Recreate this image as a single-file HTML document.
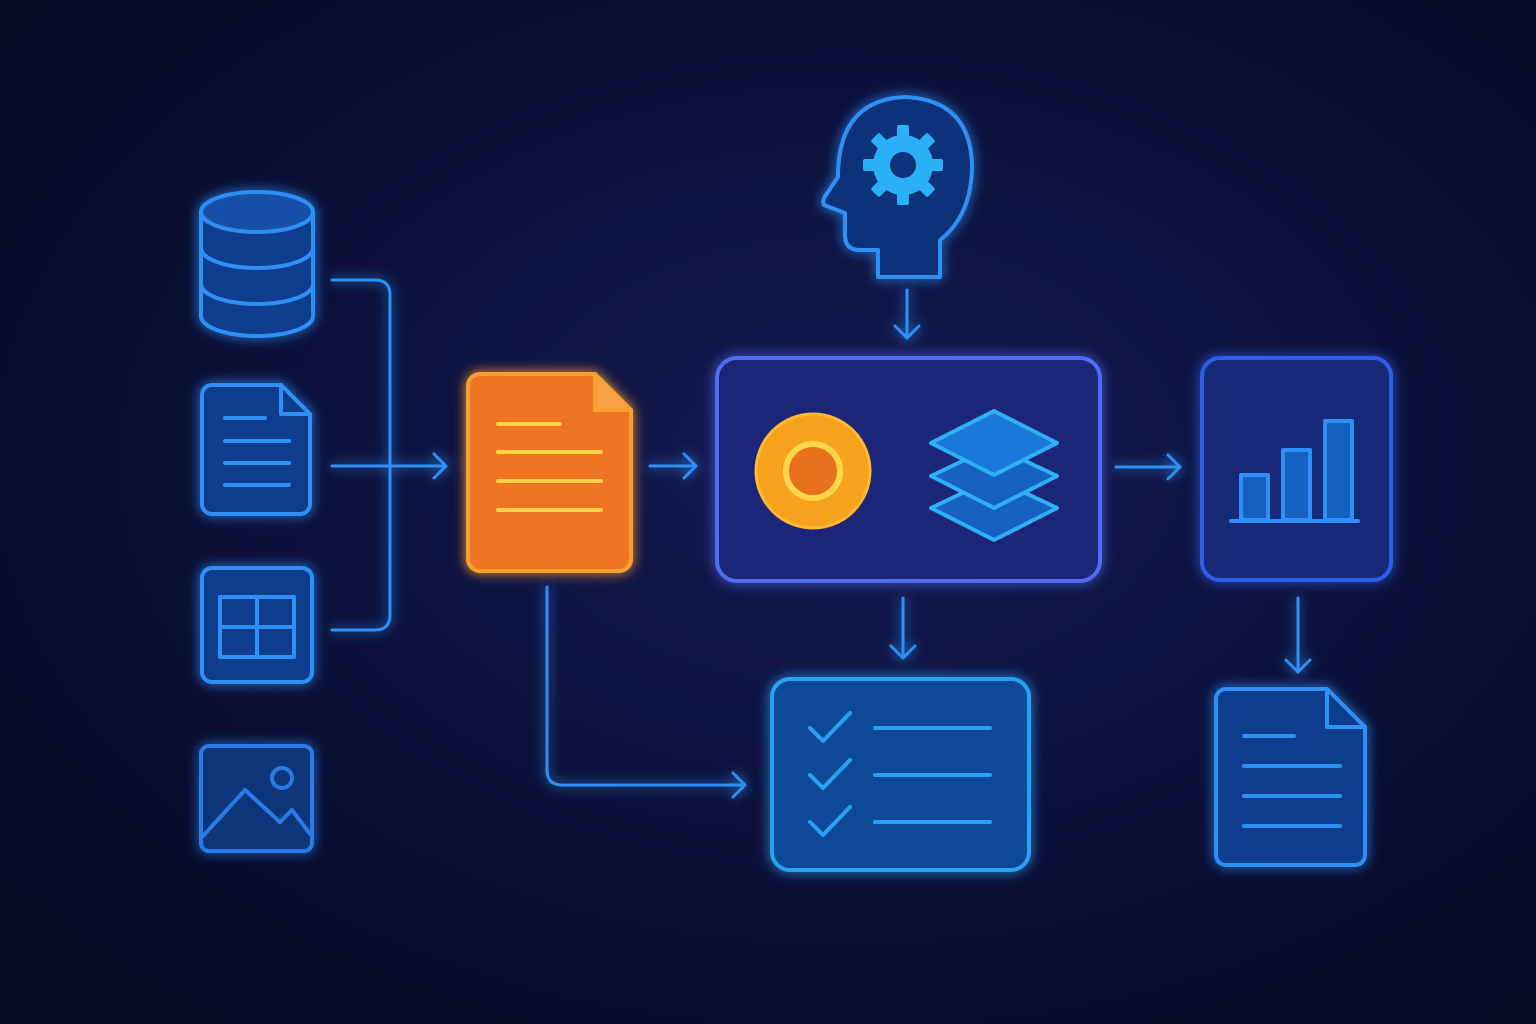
<!DOCTYPE html>
<html><head><meta charset="utf-8"><style>
html,body{margin:0;padding:0;background:#070b26;}
svg{display:block}
</style></head><body>
<svg width="1536" height="1024" viewBox="0 0 1536 1024" xmlns="http://www.w3.org/2000/svg">
<defs>
<radialGradient id="bg" cx="0.55" cy="0.45" r="0.7">
<stop offset="0" stop-color="#141a52"/><stop offset="0.6" stop-color="#0b1038"/><stop offset="1" stop-color="#060922"/>
</radialGradient>
<filter id="glow" x="-30%" y="-30%" width="160%" height="160%">
<feGaussianBlur stdDeviation="6" result="b"/>
<feMerge><feMergeNode in="b"/><feMergeNode in="SourceGraphic"/></feMerge>
</filter>
<marker id="ar" viewBox="0 0 10 10" refX="9" refY="5" markerWidth="8" markerHeight="8" orient="auto" markerUnits="userSpaceOnUse">
</marker>
</defs>
<rect width="1536" height="1024" fill="url(#bg)"/>
<g filter="url(#glow)" fill="none" stroke-linecap="round" stroke-linejoin="round">
<!-- database -->
<g stroke="#2f8ff5" stroke-width="4" fill="#113d8c">
<path d="M201 212 V316 A56 20 0 0 0 313 316 V212"/>
<ellipse cx="257" cy="212" rx="56" ry="20" fill="#1650a8"/>
<path d="M201 248 A56 20 0 0 0 313 248 M201 284 A56 20 0 0 0 313 284" fill="none"/>
</g>
<!-- doc -->
<g stroke="#2f8ff5" stroke-width="4">
<path d="M212 385 H281 L310 414 V504 A10 10 0 0 1 300 514 H212 A10 10 0 0 1 202 504 V395 A10 10 0 0 1 212 385Z" fill="#113d8c"/>
<path d="M281 385 V414 H310"/>
<path d="M225 418H265M225 441H289M225 463H289M225 485H289"/>
</g>
<!-- table -->
<g stroke="#2f8ff5" stroke-width="4">
<rect x="202" y="568" width="110" height="114" rx="10" fill="#113d8c"/>
<rect x="220" y="597" width="74" height="60"/>
<path d="M257 597V657M220 627H294"/>
</g>
<!-- image -->
<g stroke="#2a7ae8" stroke-width="4">
<rect x="201" y="746" width="111" height="105" rx="8" fill="#0f357a"/>
<path d="M203 836 L245 790 L280 822 L292 810 L310 834"/>
<circle cx="282" cy="778" r="10"/>
</g>
<!-- connectors left -->
<g stroke="#2f8ff5" stroke-width="3">
<path d="M332 280 H375 Q390 280 390 295 V615 Q390 630 375 630 H332"/>
<path d="M332 466 H446 M434 454 L446 466 L434 478"/>
<path d="M650 466 H696 M684 454 L696 466 L684 478"/>
<path d="M547 587 V770 Q547 785 562 785 H745 M733 773 L745 785 L733 797"/>
<path d="M907 290 V338 M895 326 L907 338 L919 326"/>
<path d="M1116 467 H1180 M1168 455 L1180 467 L1168 479"/>
<path d="M903 598 V658 M891 646 L903 658 L915 646"/>
<path d="M1298 598 V672 M1286 660 L1298 672 L1310 660"/>
</g>
<!-- orange doc -->
<g stroke="#f7a030" stroke-width="4">
<path d="M480 374 H595 L631 410 V559 A12 12 0 0 1 619 571 H480 A12 12 0 0 1 468 559 V386 A12 12 0 0 1 480 374Z" fill="#f07420"/>
<path d="M595 374 V410 H631" fill="#f8a040"/>
<path d="M498 424H560M498 452H601M498 481H601M498 510H601" stroke="#ffd24a"/>
</g>
<!-- main box -->
<rect x="717" y="358" width="383" height="223" rx="20" fill="#1b2878" stroke="#4f6cf2" stroke-width="4"/>
<circle cx="813" cy="471" r="57" fill="#f7a21f" stroke="#ffb830" stroke-width="3"/>
<circle cx="813" cy="471" r="27" fill="#e8721e" stroke="#ffd64a" stroke-width="6"/>
<g stroke="#2fb0f5" stroke-width="4" fill="#1560c0">
<path d="M994 478 L1057 508 L994 540 L931 508Z"/>
<path d="M994 446 L1057 476 L994 508 L931 476Z"/>
<path d="M994 411 L1057 443 L994 475 L931 443Z" fill="#1a78d8"/>
</g>
<!-- head -->
<g stroke="#2f8ff5" stroke-width="4">
<path d="M878 277 V250 H860 Q845 250 845 235 V213 L824 205 Q822 200 826 195 L838 177 Q838 100 905 97 Q970 100 972 165 Q972 215 940 240 V277 Z" fill="#10307a"/>
</g>
<g fill="#2ab0f5">
<circle cx="903" cy="165" r="30"/>
<g transform="translate(903 165)">
<rect x="-6" y="-40" width="12" height="14" rx="2"/><rect x="-6" y="26" width="12" height="14" rx="2"/>
<rect x="-40" y="-6" width="14" height="12" rx="2"/><rect x="26" y="-6" width="14" height="12" rx="2"/>
<g transform="rotate(45)"><rect x="-6" y="-40" width="12" height="14" rx="2"/><rect x="-6" y="26" width="12" height="14" rx="2"/><rect x="-40" y="-6" width="14" height="12" rx="2"/><rect x="26" y="-6" width="14" height="12" rx="2"/></g>
</g>
<circle cx="903" cy="165" r="13" fill="#10307a"/>
</g>
<!-- chart -->
<g stroke="#2f8ff5" stroke-width="4">
<rect x="1202" y="358" width="189" height="222" rx="18" fill="#122a78" stroke="#2f5ee8"/>
<rect x="1241" y="475" width="27" height="45" fill="#1560c0"/>
<rect x="1283" y="450" width="27" height="70" fill="#1560c0"/>
<rect x="1325" y="421" width="27" height="99" fill="#1560c0"/>
<path d="M1231 521 H1358"/>
</g>
<!-- checklist -->
<g stroke="#2aa0f0" stroke-width="4">
<rect x="772" y="679" width="257" height="191" rx="18" fill="#114a98"/>
<path d="M810 728 L823 741 L850 713 M810 775 L823 788 L850 760 M810 822 L823 835 L850 807"/>
<path d="M875 728H990M875 775H990M875 822H990"/>
</g>
<!-- right doc -->
<g stroke="#2f8ff5" stroke-width="4">
<path d="M1227 689 H1327 L1365 727 V855 A10 10 0 0 1 1355 865 H1227 A10 10 0 0 1 1216 855 V699 A10 10 0 0 1 1227 689Z" fill="#113d8c"/>
<path d="M1327 689 V727 H1365"/>
<path d="M1244 736H1294M1244 766H1340M1244 796H1340M1244 826H1340"/>
</g>
</g>
</svg>
</body></html>
